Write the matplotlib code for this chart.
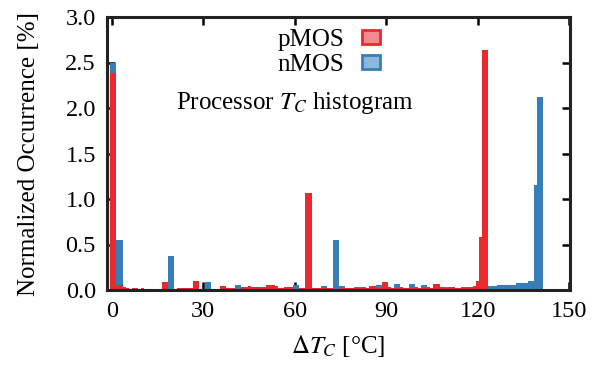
import matplotlib
matplotlib.use("Agg")
import matplotlib.pyplot as plt
from matplotlib.patches import Patch
import numpy as np

# Histogram bins (1 degC wide), values in %
pmos_bins = list(range(0, 125))
pmos_vals = [
    2.39, 2.39, 0.05, 0.05, 0.03, 0.02, 0.01, 0.02, 0.02, 0.01,   # 0-9
    0.02, 0.01, 0.0, 0.0, 0.0, 0.0, 0.0, 0.09, 0.09, 0.01,        # 10-19
    0.01, 0.01, 0.02, 0.02, 0.02, 0.02, 0.02, 0.10, 0.10, 0.0,    # 20-29
    0.0, 0.0, 0.0, 0.0, 0.0, 0.0, 0.04, 0.04, 0.02, 0.02,         # 30-39
    0.02, 0.01, 0.01, 0.03, 0.035, 0.04, 0.03, 0.035, 0.03, 0.03, # 40-49
    0.03, 0.05, 0.05, 0.05, 0.04, 0.02, 0.02, 0.03, 0.03, 0.03,   # 50-59
    0.01, 0.01, 0.02, 0.02, 1.07, 1.07, 0.02, 0.02, 0.02, 0.02,   # 60-69
    0.02, 0.02, 0.02, 0.0, 0.0, 0.02, 0.02, 0.02, 0.02, 0.02,     # 70-79
    0.02, 0.02, 0.02, 0.02, 0.02, 0.04, 0.04, 0.02, 0.02, 0.085,  # 80-89
    0.085, 0.03, 0.02, 0.02, 0.02, 0.03, 0.02, 0.02, 0.02, 0.02,  # 90-99
    0.03, 0.02, 0.02, 0.02, 0.03, 0.02, 0.07, 0.07, 0.03, 0.02,   # 100-109
    0.02, 0.03, 0.03, 0.02, 0.02, 0.03, 0.03, 0.03, 0.03, 0.04,   # 110-119
    0.10, 0.58, 2.64, 2.64, 0.0,                                   # 120-124
]

nmos_bins = list(range(0, 142))
nmos_vals = [
    2.50, 2.50, 0.55, 0.55, 0.01, 0.01, 0.01, 0.01, 0.01, 0.01,   # 0-9
    0.01, 0.01, 0.01, 0.01, 0.01, 0.01, 0.01, 0.01, 0.01, 0.37,   # 10-19
    0.37, 0.01, 0.01, 0.01, 0.01, 0.01, 0.01, 0.01, 0.01, 0.015,  # 20-29
    0.015, 0.09, 0.09, 0.01, 0.01, 0.01, 0.01, 0.01, 0.01, 0.01,  # 30-39
    0.01, 0.05, 0.05, 0.01, 0.01, 0.01, 0.01, 0.01, 0.01, 0.01,   # 40-49
    0.01, 0.01, 0.01, 0.01, 0.01, 0.01, 0.01, 0.01, 0.01, 0.01,   # 50-59
    0.055, 0.055, 0.01, 0.01, 0.01, 0.01, 0.01, 0.01, 0.01, 0.04, # 60-69
    0.04, 0.01, 0.01, 0.55, 0.55, 0.04, 0.04, 0.01, 0.01, 0.01,   # 70-79
    0.03, 0.03, 0.03, 0.03, 0.01, 0.01, 0.01, 0.05, 0.05, 0.01,   # 80-89
    0.01, 0.01, 0.01, 0.07, 0.07, 0.01, 0.01, 0.01, 0.07, 0.07,   # 90-99
    0.02, 0.02, 0.05, 0.05, 0.01, 0.01, 0.01, 0.01, 0.01, 0.035,  # 100-109
    0.035, 0.01, 0.01, 0.01, 0.01, 0.01, 0.01, 0.01, 0.01, 0.01,  # 110-119
    0.01, 0.01, 0.01, 0.01, 0.04, 0.04, 0.04, 0.05, 0.05, 0.05,   # 120-129
    0.05, 0.05, 0.05, 0.075, 0.075, 0.075, 0.075, 0.10, 0.10, 1.15, # 130-139
    2.12, 2.12,                                                    # 140-141
]

x_ticks = [0, 30, 60, 90, 120, 150]
y_ticks = [0.0, 0.5, 1.0, 1.5, 2.0, 2.5, 3.0]

RED = "#EC282D"
BLUE = "#377EB8"
RED_LIGHT = "#F28B8F"
BLUE_LIGHT = "#8DB6DA"

plt.rcParams["font.family"] = ["Liberation Serif", "DejaVu Serif"]
plt.rcParams["mathtext.fontset"] = "stix"
FS_TICK = 17.5
FS = 18

fig = plt.figure(figsize=(6.01, 3.67), dpi=100)
ax = fig.add_axes([107 / 601, 1 - 290 / 367, (570 - 107) / 601, (290 - 17) / 367])

ax.bar(nmos_bins, nmos_vals, width=1.0, color=BLUE, linewidth=0, zorder=2)
ax.bar(pmos_bins, pmos_vals, width=1.0, color=RED, linewidth=0, zorder=3)

ax.set_xlim(-1.6, 150.3)
ax.set_ylim(0, 3.0)
ax.set_xticks(x_ticks)
ax.set_xticklabels([str(v) for v in x_ticks], fontsize=FS_TICK)
ax.set_yticks(y_ticks)
ax.set_yticklabels([f"{v:.1f}" for v in y_ticks], fontsize=FS_TICK)
ax.tick_params(direction="in", length=6, width=1.8, top=True, right=True, pad=8)
for s in ax.spines.values():
    s.set_linewidth(2.2)
    s.set_color("#222222")
    s.set_zorder(5)

ax.set_xlabel(r"$\Delta T_C$ [°C]", fontsize=FS, labelpad=8)
ax.set_ylabel("Normalized Occurrence [%]", fontsize=FS, labelpad=18)

ax.text(0.406, 0.685, r"Processor $T_C$ histogram", transform=ax.transAxes,
        ha="center", va="center", fontsize=FS)

handles = [Patch(facecolor=RED_LIGHT, edgecolor=RED, linewidth=2),
           Patch(facecolor=BLUE_LIGHT, edgecolor=BLUE, linewidth=2)]
leg = ax.legend(handles, ["pMOS", "nMOS"], loc="upper left",
                bbox_to_anchor=(0.33, 1.02), frameon=False, markerfirst=False,
                fontsize=FS, handlelength=0.75, handleheight=0.5,
                labelspacing=0.1, handletextpad=0.7, borderaxespad=0.3)

fig.savefig("out.png", dpi=100)
